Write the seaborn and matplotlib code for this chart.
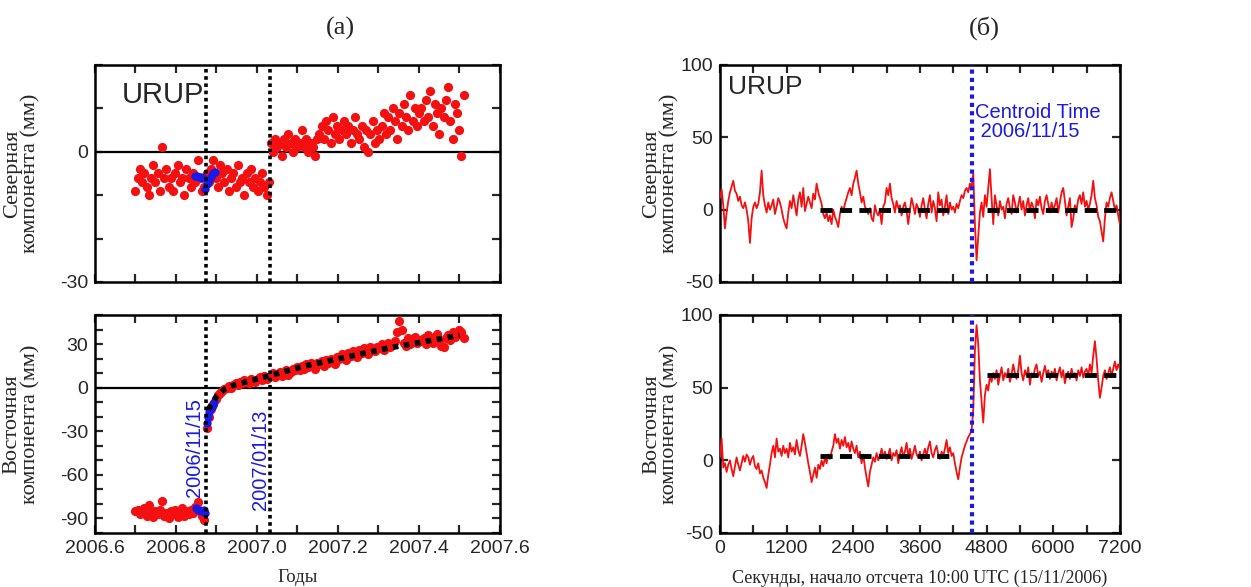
import numpy as np
import pandas as pd
import matplotlib
matplotlib.use("Agg")
import matplotlib.pyplot as plt
import seaborn as sns

# --- (a) daily positions, every 2 days, three segments ---
STEP = 2 / 365.25
pre_start, mid_start, post_start = 2006.700, 2006.876, 2007.034

north_pre = [-9, -6, -4, -7, -5, -8, -10, -6, -3, -7, -5, -9, 1, -6, -4, -8,
             -6, -9, -5, -3, -7, -6, -10, -4, -6, -8, -5, -7, -2, -6, -9, -8]
north_mid = [-5, -7, -4, -2, -6, -8, -3, -5, -7, -4, -9, -6, -5, -8, -3, -7,
             -6, -10, -5, -7, -4, -8, -6, -9, -7, -5, -8, -10, -7]
north_post = [2, 0, 3, 1, 2, -1, 3, 1, 4, 2, 0, 3, 1, 2, 5, 1, 3, 0, 2, 1, -1, 3,
              4, 6, 3, 7, 5, 2, 8, 4, 6, 3, 5, 7, 4, 6, 2, 5, 8, 4,
              3, 6, 1, 5, 0, 4, 7, 2, 5, 3,
              6, 9, 4, 8, 5, 10, 7, 3, 9, 6, 11, 8, 5, 13, 7, 10, 6, 9,
              10, 7, 12, 8, 14, 6, 11, 9, 4, 10, 8, 12, 15, 7, 3, 11, 9, 5, -1, 13]

east_pre = [-85, -84, -87, -86, -83, -88, -81, -86, -89, -85, -87, -84, -78, -88, -86, -90,
            -85, -87, -84, -89, -86, -83, -88, -85, -87, -84, -86, -82, -79, -85, -88, -91]
east_mid = [-28, -20, -15, -11, -8, -5, -4, -2, -1, 0, 1, 0, 2, 3, 2, 4, 3, 5, 4, 3,
            6, 5, 4, 6, 7, 5, 8, 6, 7]
east_post = [8, 10, 7, 9, 11, 8, 10, 12, 9, 11, 13, 12, 14,
             12, 15, 13, 16, 14, 17, 15, 13, 17, 16, 18, 15, 19, 17, 20, 18, 16, 21,
             20, 23, 21, 19, 24, 22, 25, 23, 21, 26, 24, 27, 25, 23, 28, 26, 25, 28,
             27, 30, 26, 29, 31, 28, 30, 32, 38, 46, 40, 31, 29, 34, 30, 32, 35, 31, 33,
             32, 34, 30, 36, 33, 31, 35, 37, 32, 29, 28, 34, 36, 33, 38, 35, 37, 40, 38, 34]

blue_north_t = [2006.847, 2006.852, 2006.857, 2006.862, 2006.867, 2006.872,
                2006.877, 2006.882, 2006.887, 2006.892, 2006.897]
blue_north = [-5.5, -5.6, -5.8, -5.7, -6.0, -8.5, -7.5, -6.5, -5.8, -5.0, -4.6]
blue_east_t = [2006.850, 2006.855, 2006.860, 2006.865, 2006.869, 2006.872,
               2006.876, 2006.879, 2006.882, 2006.885, 2006.888, 2006.891, 2006.894]
blue_east = [-83, -84, -84, -85, -84, -86, -24, -20, -17, -15, -13, -12, -10]

fit_t = np.arange(2006.88, 2007.501, 0.02)
fit_east = [-15, -6, -1, 1.5, 3, 4.5, 6, 7.5, 9, 10.5, 12, 13.5, 15, 16.2, 17.4, 18.6,
            19.8, 21, 22.2, 23.4, 24.6, 25.8, 27, 28, 29, 30, 31, 32, 33, 34, 35, 36]

quake_day, after_day = 2006.873, 2007.033

# --- (б) high-rate positions, every 30 s ---
sec = np.arange(0, 7201, 30)
north_hr = [8, 14, 3, -13, -2, 6, 12, 16, 20, 13, 11, 6, 9, 3, 1, 5, 0, -8, -23, -6,
            2, 5, 1, 4, 12, 27, 10, 3, -2, 5, 0, 3, 7, -3, 2, 8, 5, 0, -6, -10,
            -13, -2, 6, 1, 10, 3, -4, 7, 12, 2, 15, -1, 4, 9, 5, 1, 11, 7, 18, 12,
            8, 4, -3, -6, -2, -8, -4, -10, 0, -5, -8, -12, -3, 2, -1, 4, 8, 12, 15, 10,
            18, 22, 27, 18, 12, 5, 9, 2, 0, -3, 1, -6, -8, 3, -2, -4, 0, -10, 2, 5,
            15, 10, 18, 8, 4, -2, 6, 1, 3, -4, 2, 5, -1, -10, 0, 8, 3, -3, 4, 1,
            -5, 3, 8, 0, -6, 4, 10, -2, 6, 1, -8, 12, 3, 7, -4, 2, 10, -3, 5, 0,
            2, -2, 4, 1, 6, 10, 8, 13, 15, 12, 18, 16, 25, -10, -35, -18, -2, 5, -5, 10,
            2, 15, 28, 8, -10, 10, 3, -4, 6, 0, 2, -6, 4, 8, 1, -3, 10, 5, -2, 3,
            9, 0, 6, -4, 3, 8, -1, 5, 2, -6, 7, 3, 9, 1, -3, 6, 10, 4, -2, 5,
            0, 3, 8, -2, 5, 12, 15, 6, -4, 2, 8, -12, -6, 3, 0, 7, 10, 4, 12, 2,
            6, 0, 4, 10, 20, 8, 3, -5, -8, -15, -22, -6, 5, 2, 8, 12, 6, 0, 3, -4,
            -10]
east_hr = [2, 15, -5, -2, -8, -3, 0, -6, -11, -4, 2, -3, -7, -2, 3, -1, 4, 2, -3, 1,
           3, -4, -6, -2, -9, -7, -12, -15, -19, -10, -3, 5, 10, 2, 15, 6, 8, 3, 10, 5,
           8, 2, 12, 6, 9, 4, 14, 7, 3, 10, 18, 12, 5, -2, -8, -15, -10, -5, -12, -3,
           -6, 0, -4, 2, -2, 4, 1, 6, 10, 18, 12, 15, 8, 14, 10, 16, 9, 12, 6, 13,
           8, 5, 10, 2, 6, -2, 4, -5, -12, -18, -8, -3, 2, -1, 5, 0, 3, 8, 2, 6,
           1, 4, 8, 0, 5, 3, 7, -2, 4, 9, 2, 6, 12, 3, 8, 1, 5, 10, 4, 2,
           6, 0, 4, 8, 3, 9, 13, 5, 2, 7, 10, 4, 1, 6, 3, 8, 14, 5, 9, 3,
           5, -2, -8, -13, -5, 2, 6, 10, 13, 16, 18, 20, 35, 75, 93, 80, 55, 40, 26, 45,
           52, 48, 58, 54, 60, 56, 62, 52, 58, 64, 55, 60, 57, 63, 54, 59, 66, 60, 56, 62,
           72, 60, 55, 62, 58, 64, 52, 60, 57, 63, 66, 58, 61, 54, 60, 65, 59, 62, 56, 61,
           58, 63, 55, 60, 64, 57, 62, 53, 59, 61, 56, 63, 58, 60, 55, 62, 58, 64, 57, 61,
           63, 58, 66, 60, 72, 82, 70, 55, 43, 50, 58, 62, 56, 60, 64, 58, 63, 68, 62, 66,
           63]
north_level = [0, 0]
east_level = [3, 59]
level_spans = [(1800, 4200), (4800, 7200)]
centroid_sec = 4536

RED = "#f41010"
BLUE = "#1a1ae6"
SERIF = ["Liberation Serif", "DejaVu Serif"]

sns.set_style("ticks")
plt.rcParams["font.family"] = ["Liberation Sans", "DejaVu Sans"]
plt.rcParams["axes.unicode_minus"] = False


def days(start, vals):
    return start + STEP * np.arange(len(vals))


def style_axes(ax):
    ax.tick_params(direction="in", top=True, right=True, length=6, width=1.6,
                   labelsize=14, pad=5)
    for sp in ax.spines.values():
        sp.set_linewidth(1.8)
        sp.set_color("black")


fig = plt.figure(figsize=(12.51, 5.87), dpi=100)
ax_n = fig.add_axes([0.0759, 0.5196, 0.3237, 0.3697])
ax_e = fig.add_axes([0.0759, 0.0920, 0.3237, 0.3714])
ax_hn = fig.add_axes([0.5755, 0.5196, 0.3197, 0.3697])
ax_he = fig.add_axes([0.5755, 0.0920, 0.3197, 0.3714])

# left panels
for ax, pre, mid, post, bt, bv in [
        (ax_n, north_pre, north_mid, north_post, blue_north_t, blue_north),
        (ax_e, east_pre, east_mid, east_post, blue_east_t, blue_east)]:
    df = pd.DataFrame({
        "t": np.concatenate([days(pre_start, pre), days(mid_start, mid), days(post_start, post)]),
        "v": pre + mid + post})
    ax.axhline(0, color="black", lw=1.6, zorder=1)
    sns.scatterplot(data=df, x="t", y="v", ax=ax, color=RED, s=44, linewidth=0, zorder=3)
    sns.scatterplot(x=bt, y=bv, ax=ax, color=BLUE, s=36, linewidth=0, zorder=4)
    for d in (quake_day, after_day):
        ax.axvline(d, color="black", lw=2.6, ls=(0, (1, 1)), zorder=5)
    ax.set_xlim(2006.6, 2007.6)
    ax.set_xticks(np.arange(2006.6, 2007.61, 0.1))
    style_axes(ax)

ax_e.plot(fit_t, fit_east, color="black", lw=4, ls=(0, (1, 1)), zorder=4)

ax_n.set_ylim(-30, 20)
ax_n.set_yticks([-30, -20, -10, 0, 10, 20])
ax_n.set_yticklabels(["-30", "", "", "0", "", ""])
ax_n.set_xticklabels([])
ax_n.set_xlabel("")
ax_n.text(2006.667, 11.3, "URUP", fontsize=21)

ax_e.set_ylim(-100, 50)
ax_e.set_yticks(np.arange(-100, 51, 10))
ax_e.set_yticklabels(["", "-90", "", "", "-60", "", "", "-30", "", "", "0", "", "", "30", "", ""])
ax_e.set_xticklabels(["2006.6", "", "2006.8", "", "2007.0", "", "2007.2", "", "2007.4", "", "2007.6"])
ax_e.set_xlabel("Годы", family=SERIF, fontsize=13.5, labelpad=9)
ax_e.text(2006.845, -75, "2006/11/15", rotation=90, ha="center", va="bottom",
          color=BLUE, fontsize=14.5)
ax_e.text(2007.008, -84, "2007/01/13", rotation=90, ha="center", va="bottom",
          color=BLUE, fontsize=14.5)

# right panels
for ax, vals, levels in [(ax_hn, north_hr, north_level), (ax_he, east_hr, east_level)]:
    sns.lineplot(x=sec, y=vals, ax=ax, color=RED, lw=1.3, estimator=None, zorder=3)
    for (a, b), lv in zip(level_spans, levels):
        ax.plot([a, b], [lv, lv], color="black", lw=3.5, ls=(0, (2.5, 1.5)), zorder=4)
    ax.axvline(centroid_sec, color=BLUE, lw=3, ls=(0, (1, 1)), zorder=5)
    ax.set_xlim(0, 7200)
    ax.set_ylim(-50, 100)
    ax.set_xticks(np.arange(0, 7201, 600))
    ax.set_yticks([-50, 0, 50, 100])
    style_axes(ax)

ax_hn.set_xticklabels([])
ax_hn.text(150, 80, "URUP", fontsize=19)
ax_hn.text(4590, 50, "Centroid Time\n 2006/11/15", color=BLUE, fontsize=14.5,
           linespacing=1.05)
ax_he.set_xticklabels([str(v) if v % 1200 == 0 else "" for v in range(0, 7201, 600)])
ax_he.set_xlabel("Секунды, начало отсчета 10:00 UTC (15/11/2006)", family=SERIF,
                 fontsize=13, labelpad=9)

ylabels = {ax_n: "Северная\nкомпонента (мм)", ax_e: "Восточная\nкомпонента (мм)",
           ax_hn: "Северная\nкомпонента (мм)", ax_he: "Восточная\nкомпонента (мм)"}
for ax, lab in ylabels.items():
    ax.set_ylabel(lab, family=SERIF, fontsize=16, linespacing=0.95)
for ax in (ax_n, ax_e):
    ax.yaxis.set_label_coords(-0.135, 0.5)
for ax in (ax_hn, ax_he):
    ax.yaxis.set_label_coords(-0.10, 0.5)

fig.text(0.272, 0.952, "(а)", family=SERIF, fontsize=19, ha="center", va="center")
fig.text(0.787, 0.952, "(б)", family=SERIF, fontsize=19, ha="center", va="center")

fig.savefig("out.png", dpi=100)
